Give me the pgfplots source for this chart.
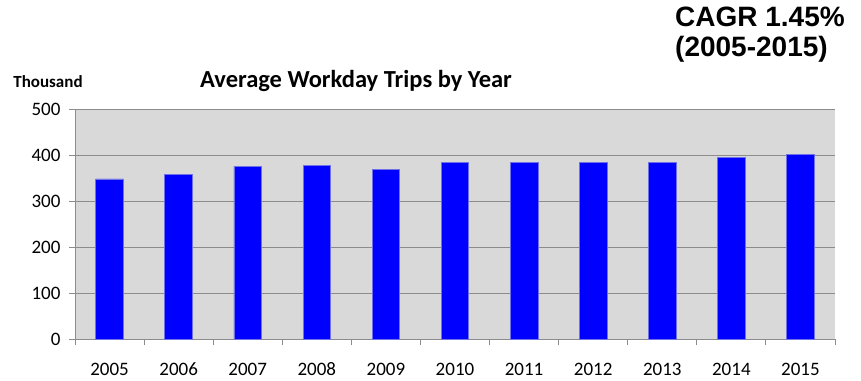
\documentclass[border=0pt]{standalone}
\usepackage{pgfplots}
\pgfplotsset{compat=1.18}
\usepackage{fontspec}
\setmainfont{Carlito}
\newfontfamily\arialfont{Liberation Sans}
\definecolor{plotbg}{HTML}{D9D9D9}
\definecolor{gridc}{HTML}{8C8C8C}
\definecolor{barblue}{HTML}{0000FF}
\definecolor{baredge}{HTML}{7070E8}
\begin{document}
\begin{tikzpicture}
\useasboundingbox (0,0) rectangle (861bp,381bp);
\begin{axis}[
  at={(75bp,42bp)}, anchor=south west,
  scale only axis, width=760bp, height=230bp,
  xmin=-0.5, xmax=10.5, ymin=0, ymax=500,
  axis background/.style={fill=plotbg},
  axis lines=left, axis line style={-, gridc, line width=1pt},
  ytick={0,100,...,500},
  ymajorgrids, major grid style={gridc, line width=1pt},
  xtick={-0.5,0.5,...,10.5}, xticklabels={},
  extra x ticks={0,1,2,3,4,5,6,7,8,9,10},
  extra x tick labels={2005,2006,2007,2008,2009,2010,2011,2012,2013,2014,2015},
  extra x tick style={major tick length=0pt, grid=none, xticklabel style={anchor=base, yshift=-36bp}},
  tick align=outside, major tick length=6bp,
  tick style={gridc, line width=1pt},
  ticklabel style={font=\fontsize{19bp}{20bp}\selectfont, text=black},
  yticklabel style={xshift=-5bp},
  /pgf/number format/assume math mode=true,
  clip=false,
]
\addplot[ybar, bar width=0.4, fill=barblue, draw=baredge, line width=0.8pt] coordinates {
(0,348) (1,358) (2,376) (3,378) (4,368) (5,383) (6,384) (7,383) (8,384) (9,394) (10,401)
};
\end{axis}
\node[font=\fontsize{17bp}{18bp}\selectfont\bfseries] at (48bp,299bp) {Thousand};
\node[font=\fontsize{24.5bp}{26bp}\selectfont\bfseries] at (356bp,300bp) {Average Workday Trips by Year};
\node[anchor=base west, inner sep=0pt, font=\arialfont\fontsize{28bp}{28bp}\selectfont\bfseries] at (675bp,354bp) {CAGR 1.45\%};
\node[anchor=base west, inner sep=0pt, font=\arialfont\fontsize{28bp}{28bp}\selectfont\bfseries] at (675bp,324bp) {(2005-2015)};
\end{tikzpicture}
\end{document}
